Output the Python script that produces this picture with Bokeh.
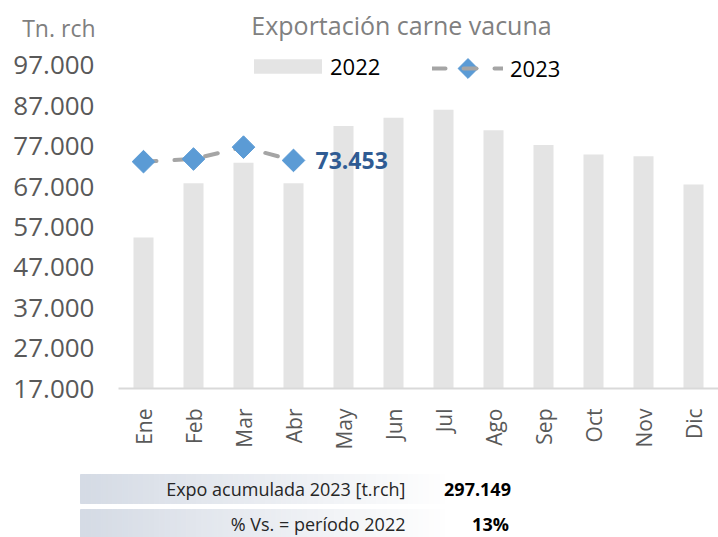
import math
import numpy as np
from bokeh.plotting import figure
from bokeh.models import (Range1d, FixedTicker, Label, Legend, LinearAxis)
from bokeh.core.properties import value
from bokeh.embed import file_html
from bokeh.resources import INLINE

# ---- data ----
months = ["Ene", "Feb", "Mar", "Abr", "May", "Jun", "Jul", "Ago", "Sep", "Oct", "Nov", "Dic"]
v2022 = [54400, 67800, 72900, 67800, 82000, 84000, 86000, 80900, 77300, 74900, 74500, 67500]
v2023 = [73150, 73800, 76746, 73453]
y_ticks = [17000, 27000, 37000, 47000, 57000, 67000, 77000, 87000, 97000]
y_tick_labels = ["17.000", "27.000", "37.000", "47.000", "57.000", "67.000", "77.000", "87.000", "97.000"]
table_labels = ["Expo acumulada 2023 [t.rch]", "% Vs. = período 2022"]

def fmt_thousands(v):
    return f"{v:,}".replace(",", ".")

acum = sum(v2023)
pct = round((acum / sum(v2022[:len(v2023)]) - 1) * 100)
table_values = [fmt_thousands(acum), f"{pct}%"]

FONT = "Open Sans"
GREY_TXT = "#595959"
MARKER_BLUE = "#5b9bd5"
LINE_GREY = "#a5a5a5"
DASH = "13 18"

# ---- layout geometry (pixels) ----
W, H = 718, 537
PLOT_LEFT = 118      # pixel where first category starts
CAT_PX = 50          # pixels per category
BASE_PY = 388        # pixel row of the lowest y tick
PX_PER_10K = 40.4

def x_at(px):
    return (px - PLOT_LEFT) / CAT_PX

def y_at(py):
    return y_ticks[0] + (BASE_PY - py) / PX_PER_10K * 10000

xs = [i + 0.5 for i in range(len(months))]

p = figure(width=W, height=H, x_range=Range1d(x_at(0), x_at(W)),
           y_range=Range1d(y_at(H), y_at(0)), output_backend="svg",
           toolbar_location=None, min_border=0,
           x_axis_location=None, y_axis_location=None)
p.outline_line_color = None
p.grid.visible = False
p.background_fill_color = "white"
p.border_fill_color = "white"

bars = p.vbar(x=xs, top=v2022, bottom=y_ticks[0], width=0.4, fill_color="#e4e4e4",
              line_color=None)
ln = p.line(x=xs[:len(v2023)], y=v2023, line_color=LINE_GREY, line_width=4,
            line_dash=DASH, line_cap="round")
mk = p.scatter(x=xs[:len(v2023)], y=v2023, marker="square", angle=math.pi / 4,
               size=16, fill_color=MARKER_BLUE, line_color=MARKER_BLUE)

# x axis (inside the canvas, at the base value)
xaxis = LinearAxis(fixed_location=y_ticks[0], ticker=FixedTicker(ticks=xs),
                   major_label_overrides={x: m for x, m in zip(xs, months)},
                   bounds=(0, len(months)))
xaxis.axis_line_color = "#d9d9d9"
xaxis.axis_line_width = 2
xaxis.major_tick_line_color = None
xaxis.minor_tick_line_color = None
xaxis.major_label_orientation = math.pi / 2
xaxis.major_label_standoff = 14
xaxis.major_label_text_font = FONT
xaxis.major_label_text_font_size = "21px"
xaxis.major_label_text_color = GREY_TXT
p.add_layout(xaxis, "below")

# y axis
yaxis = LinearAxis(fixed_location=0, ticker=FixedTicker(ticks=y_ticks),
                   major_label_overrides={t: l for t, l in zip(y_ticks, y_tick_labels)})
yaxis.axis_line_color = None
yaxis.major_tick_line_color = None
yaxis.minor_tick_line_color = None
yaxis.major_label_standoff = 18
yaxis.major_label_text_font = FONT
yaxis.major_label_text_font_size = "26px"
yaxis.major_label_text_color = GREY_TXT
p.add_layout(yaxis, "left")

# legends
LEG_CY = 68           # legend centre row (px)
LEG2_X, LEG2_W, LEG2_H = 432, 71, 36
leg1 = Legend(items=[("2022", [bars])], location=(245, H - (LEG_CY + 13)),
              orientation="horizontal", border_line_color=None, background_fill_alpha=0,
              label_text_font=FONT, label_text_font_size="22px", label_text_color="black",
              glyph_width=85, glyph_height=18, label_height=26, label_standoff=0,
              padding=0, margin=0)
leg2 = Legend(items=[("2023", [ln])], location=(LEG2_X, H - (LEG_CY + LEG2_H / 2)),
              orientation="horizontal", border_line_color=None, background_fill_alpha=0,
              label_text_font=FONT, label_text_font_size="22px", label_text_color="black",
              glyph_width=LEG2_W, glyph_height=LEG2_H, label_height=26, label_standoff=7,
              padding=0, margin=0)
p.add_layout(leg1, "center")
p.add_layout(leg2, "center")
# diamond key of the 2023 legend entry (legend keys ignore marker angle)
p.scatter(x=[x_at(LEG2_X + LEG2_W / 2)], y=[y_at(LEG_CY)], marker="square",
          angle=math.pi / 4, size=14, fill_color=MARKER_BLUE, line_color=MARKER_BLUE)

# title and unit label
p.add_layout(Label(x=x_at(401), y=y_at(24), text="Exportación carne vacuna",
                   text_font=FONT, text_font_size="25px", text_color="#808080",
                   text_align="center", text_baseline="middle"))
p.add_layout(Label(x=x_at(95), y=y_at(27), text="Tn. rch",
                   text_font=FONT, text_font_size="23px", text_color="#7f7f7f",
                   text_align="right", text_baseline="middle"))

# last value label
p.text(x=[xs[len(v2023) - 1]], y=[v2023[-1]], text=[fmt_thousands(v2023[-1])],
       x_offset=22, text_font=value(FONT), text_font_size="23px",
       text_font_style="bold", text_color="#2f5b93", text_align="left",
       text_baseline="middle")

# ---- summary table below the chart ----
rows_px = [(474, 503), (509, 537)]
n = 70
edges_px = np.linspace(80, 450, n + 1)
c0 = np.array([0xd5, 0xdb, 0xe5])
c1 = np.array([0xff, 0xff, 0xff])
cols = []
for i in range(n):
    f = i / (n - 1)
    c = (c0 * (1 - f) + c1 * f).astype(int)
    cols.append("#%02x%02x%02x" % tuple(c))
for top_px, bot_px in rows_px:
    p.quad(left=[x_at(e) for e in edges_px[:-1]], right=[x_at(e) for e in edges_px[1:]],
           top=[y_at(top_px)] * n, bottom=[y_at(bot_px)] * n,
           fill_color=cols, line_color=cols, line_width=1)

row_mid = [y_at((a + b) / 2) for a, b in rows_px]
p.text(x=[x_at(405)] * 2, y=row_mid, text=table_labels, text_align="right",
       text_baseline="middle", text_font=value(FONT), text_font_size="18px",
       text_color="#262626")
p.text(x=[x_at(477), x_at(490)], y=row_mid, text=table_values, text_align="center",
       text_baseline="middle", text_font=value(FONT), text_font_size="18px",
       text_font_style="bold", text_color="black")

open("out.html", "w").write(file_html(p, INLINE))
